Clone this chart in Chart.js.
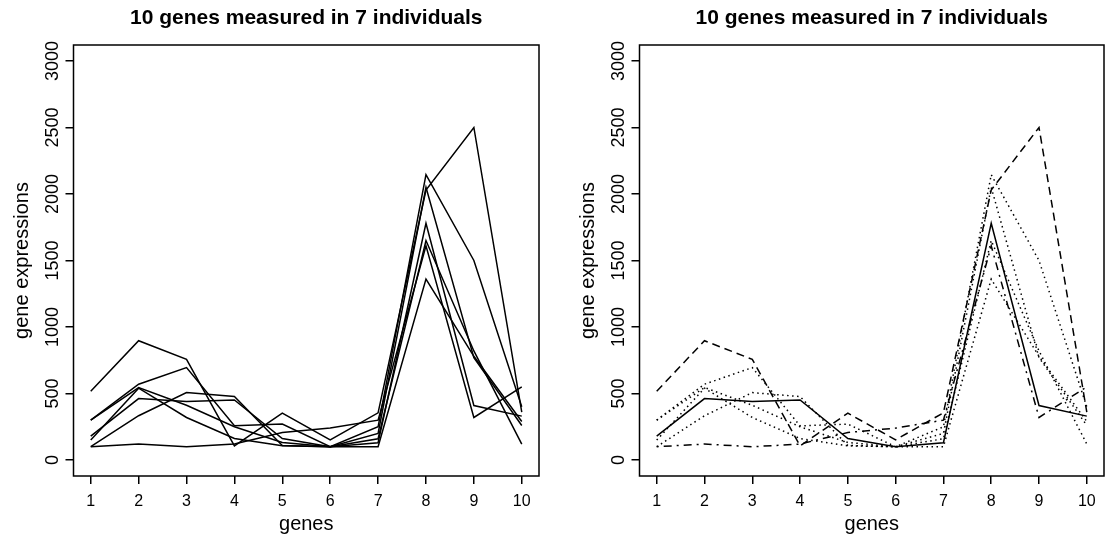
<!DOCTYPE html>
<html>
<head>
<meta charset="utf-8">
<script src="https://cdn.jsdelivr.net/npm/chart.js@4.4.1/dist/chart.umd.min.js"></script>
<style>
  html, body { margin: 0; padding: 0; background: #fff; }
  #wrap { position: relative; width: 1106px; height: 542px; }
  canvas { position: absolute; top: 0; }
</style>
</head>
<body>
<div id="wrap">
  <canvas id="plainPlot" width="553" height="542" style="left:0"></canvas>
  <canvas id="styledPlot" width="553" height="542" style="left:553px"></canvas>
</div>
<script>
// genes on the x axis
const genes = [1, 2, 3, 4, 5, 6, 7, 8, 9, 10];
const yTicks = [0, 500, 1000, 1500, 2000, 2500, 3000];

// expression of each individual
const ind1 = [180, 462, 440, 452, 162, 100, 130, 1780, 410, 330];
const ind2 = [517, 897, 757, 107, 352, 152, 355, 2030, 2500, 360];
const ind3 = [300, 570, 695, 257, 270, 100, 250, 2145, 1500, 400];
const ind4 = [300, 545, 412, 250, 132, 100, 200, 2050, 770, 260];
const ind5 = [150, 540, 320, 162, 107, 100, 160, 1650, 820, 120];
const ind6 = [100, 333, 507, 477, 110, 100, 100, 1360, 780, 290];
const ind7 = [100, 120, 100, 120, 207, 240, 300, 1610, 320, 550];

const individuals = [ind1, ind2, ind3, ind4, ind5, ind6, ind7];
// R-like line types for the right panel: solid, dashed, dotted x4, dotdash
const dashes = [[], [8, 5], [1.5, 3.5], [1.5, 3.5], [1.5, 3.5], [1.5, 3.5], [2, 5, 8, 5]];

const FONT = '"Liberation Sans", Arial, Helvetica, sans-serif';
const TITLE = '10 genes measured in 7 individuals';

// box round the plot, rotated y labels and the main title
const framePlugin = {
    id: 'frame',
    afterDraw(chart, args, opts) {
        const { ctx, chartArea: a, scales: { y } } = chart;
        ctx.save();
        ctx.strokeStyle = '#000';
        ctx.lineWidth = 1.5;
        ctx.strokeRect(a.left, a.top, a.right - a.left, a.bottom - a.top);

        ctx.fillStyle = '#000';
        ctx.textAlign = 'center';
        ctx.textBaseline = 'middle';
        ctx.font = '18px ' + FONT;
        y.ticks.forEach(t => {
            ctx.save();
            ctx.translate(a.left - 20, y.getPixelForValue(t.value));
            ctx.rotate(-Math.PI / 2);
            ctx.fillText(String(t.value), 0, 0);
            ctx.restore();
        });

        ctx.font = 'bold 21px ' + FONT;
        ctx.fillText(opts.title, (a.left + a.right) / 2, 18);
        ctx.restore();
    }
};

function makeChart(id, styled, padLeft, padRight) {
    const datasets = individuals.map((vals, i) => ({
        label: 'individual ' + (i + 1),
        data: genes.map((g, j) => ({ x: g, y: vals[j] })),
        borderColor: '#000',
        borderWidth: 1.5,
        borderDash: styled ? dashes[i] : [],
        pointRadius: 0,
        tension: 0,
        fill: false
    }));

    return new Chart(document.getElementById(id).getContext('2d'), {
        type: 'line',
        data: { datasets: datasets },
        plugins: [framePlugin],
        options: {
            responsive: false,
            animation: false,
            devicePixelRatio: 1,
            layout: { padding: { top: 45, left: padLeft, right: padRight, bottom: 0 } },
            plugins: {
                legend: { display: false },
                tooltip: { enabled: false },
                frame: { title: TITLE }
            },
            scales: {
                x: {
                    type: 'linear',
                    min: 0.64,
                    max: 10.36,
                    afterFit: s => { s.height = 66; },
                    afterBuildTicks: s => { s.ticks = genes.map(v => ({ value: v })); },
                    border: { display: false },
                    grid: { drawOnChartArea: false, drawTicks: true, tickLength: 8, color: '#000', lineWidth: 1.5 },
                    ticks: {
                        autoSkip: false,
                        maxRotation: 0,
                        padding: 8,
                        color: '#000',
                        font: { family: FONT, size: 16 }
                    },
                    title: {
                        display: true,
                        text: 'genes',
                        color: '#000',
                        font: { family: FONT, size: 20 },
                        padding: { top: 0, bottom: 6 }
                    }
                },
                y: {
                    type: 'linear',
                    min: -120,
                    max: 3120,
                    afterFit: s => { s.width = 73.5; },
                    afterBuildTicks: s => { s.ticks = yTicks.map(v => ({ value: v })); },
                    border: { display: false },
                    grid: { drawOnChartArea: false, drawTicks: true, tickLength: 8, color: '#000', lineWidth: 1.5 },
                    ticks: { display: false },
                    title: {
                        display: true,
                        text: 'gene expressions',
                        color: '#000',
                        font: { family: FONT, size: 20 },
                        padding: { top: 10, bottom: 10 }
                    }
                }
            }
        }
    });
}

makeChart('plainPlot', false, 0, 14);
makeChart('styledPlot', true, 13, 2);
</script>
</body>
</html>
